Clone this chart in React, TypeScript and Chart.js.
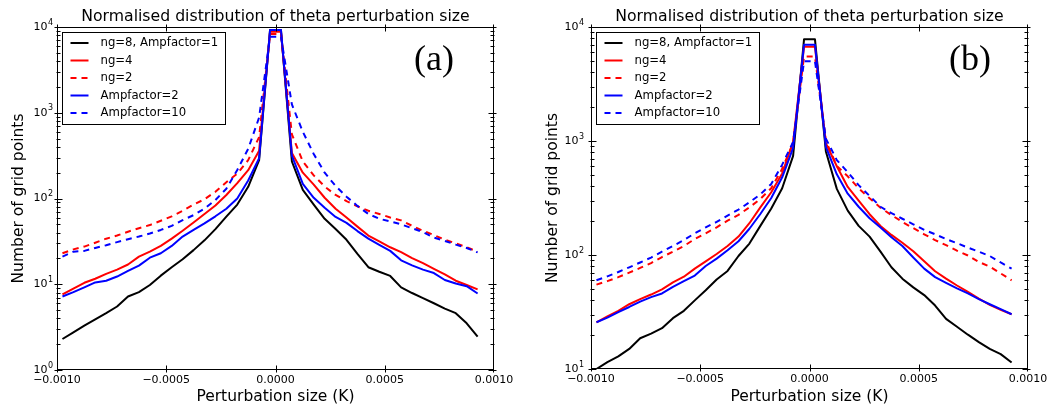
import React, { useEffect, useRef } from "react";
import { Chart, registerables } from "chart.js";

Chart.register(...registerables);

// ---------- data ----------
const X_VALUES = [
  -0.000975, -0.000925, -0.000875, -0.000825, -0.000775, -0.000725, -0.000675, -0.000625,
  -0.000575, -0.000525, -0.000475, -0.000425, -0.000375, -0.000325, -0.000275, -0.000225,
  -0.000175, -0.000125, -0.000075, -0.000025, 0.000025, 0.000075, 0.000125, 0.000175,
  0.000225, 0.000275, 0.000325, 0.000375, 0.000425, 0.000475, 0.000525, 0.000575,
  0.000625, 0.000675, 0.000725, 0.000775, 0.000825, 0.000875, 0.000925,
];

// panel (a)
const A_NG8 = [2.3, 2.75, 3.3, 3.9, 4.6, 5.5, 7.2, 8.1, 9.8, 12.6, 15.8, 19.6, 25, 32.5, 44, 61.5, 85, 137, 280, 9200, 9200, 270, 126, 85, 58, 44, 33, 22.6, 15.8, 14, 12.5, 9.2, 7.9, 6.9, 6.0, 5.2, 4.6, 3.5, 2.45];
const A_NG4 = [7.6, 8.9, 10.4, 11.6, 13.2, 14.8, 17, 21, 24, 28, 34, 42, 52.5, 66, 83, 110, 151, 214, 360, 8800, 8800, 340, 200, 145, 102, 76, 60, 47, 37, 31.6, 27, 23.7, 20.2, 17.6, 15.1, 13, 11, 9.8, 8.7];
const A_NG2 = [23, 25.5, 27.5, 30.5, 34, 37, 41, 45, 49, 55, 62, 72, 85, 98, 120, 155, 195, 280, 520, 8300, 8300, 560, 270, 186, 138, 110, 93, 81, 72, 66, 60, 55.6, 48, 42, 37.5, 33, 30, 27, 24];
const A_AMP2 = [7.2, 8.1, 9.2, 10.5, 11, 12.3, 14.3, 16.5, 20.4, 23, 28, 36, 43, 51.3, 62, 76, 100, 162, 295, 9200, 9200, 316, 148, 102, 78, 61, 52, 41.7, 34, 28.8, 24.5, 19, 16.6, 14.8, 13.5, 11.2, 10.2, 9.5, 7.8];
const A_AMP10 = [21, 24, 24.5, 26.5, 28.5, 31, 33.5, 36, 39, 43, 48, 56, 64, 76, 96, 130, 215, 380, 880, 7700, 7700, 1250, 600, 330, 200, 140, 105, 82, 66, 58, 54, 50, 45, 40.5, 35, 32, 29, 26.5, 23.5];

// panel (b)
const B_NG8 = [10, 11.5, 12.9, 15, 18.6, 20.4, 22.8, 27.9, 32.4, 40, 49, 61, 72.5, 98, 126, 180, 256, 385, 740, 7800, 7800, 810, 380, 245, 180, 145, 107, 78, 62, 52, 44.5, 36, 27.5, 23.5, 20, 17.2, 15, 13.5, 11.4];
const B_NG4 = [25.7, 29, 32.4, 37, 41, 45, 50, 57.5, 64.5, 76, 88, 102, 120, 145, 190, 262, 355, 520, 980, 6700, 6700, 955, 600, 395, 300, 228, 180, 150, 128, 108, 88, 72, 62, 54, 47.5, 41.5, 36.5, 33, 30.2];
const B_NG2 = [55, 59, 64, 70, 77, 85, 96, 107, 120, 138, 155, 175, 200, 225, 262, 310, 385, 570, 960, 5500, 5500, 1000, 603, 490, 385, 314, 260, 224, 195, 172, 152, 135, 122, 109, 99, 87, 79, 69, 60];
const B_AMP2 = [25.7, 28.2, 31.6, 35, 39, 42.7, 46, 52.5, 59, 66, 80, 93, 110, 132, 170, 229, 316, 480, 870, 7000, 7000, 890, 510, 345, 265, 210, 174, 143, 120, 95, 76, 64, 57, 51, 46, 41, 37, 33.5, 30.2];
const B_AMP10 = [60, 65, 71, 78, 86, 95, 107, 120, 135, 155, 175, 195, 222, 250, 290, 340, 420, 620, 980, 5000, 5000, 1050, 680, 533, 410, 330, 265, 233, 208, 186, 166, 152, 138, 127, 116, 107, 98, 86, 76];

const SERIES_LABELS = ["ng=8, Ampfactor=1", "ng=4", "ng=2", "Ampfactor=2", "Ampfactor=10"];
const X_TICKS = [-0.001, -0.0005, 0, 0.0005, 0.001];
const X_TICK_LABELS = ["\u22120.0010", "\u22120.0005", "0.0000", "0.0005", "0.0010"];
const Y_TICKS_A = [1, 10, 100, 1000, 10000];
const Y_TICK_EXP_A = ["0", "1", "2", "3", "4"];
const Y_TICKS_B = [10, 100, 1000, 10000];
const Y_TICK_EXP_B = ["1", "2", "3", "4"];
const TITLE = "Normalised distribution of theta perturbation size";
const X_TITLE = "Perturbation size (K)";
const Y_TITLE = "Number of grid points";

// ---------- styles ----------
const SERIES_COLORS = ["#000000", "#ff0000", "#ff0000", "#0000ff", "#0000ff"];
const SERIES_DASHED = [false, false, true, false, true];
const FONT = "'DejaVu Sans', 'Noto Sans', sans-serif";

type Panel = {
  series: number[][];
  yMin: number;
  yMax: number;
  yTicks: number[];
  yExp: string[];
  tag: string;
  tagX: number;
  width: number;
  padding: { left: number; right: number; top: number; bottom: number };
  yLabelGap: number;
  yTitleX: number;
};

const PANEL_A: Panel = {
  series: [A_NG8, A_NG4, A_NG2, A_AMP2, A_AMP10],
  yMin: 1,
  yMax: 10000,
  yTicks: Y_TICKS_A,
  yExp: Y_TICK_EXP_A,
  tag: "(a)",
  tagX: 434,
  width: 529,
  padding: { left: 57, right: 35, top: 27, bottom: 38 },
  yLabelGap: 4,
  yTitleX: 23,
};

const PANEL_B: Panel = {
  series: [B_NG8, B_NG4, B_NG2, B_AMP2, B_AMP10],
  yMin: 10,
  yMax: 10000,
  yTicks: Y_TICKS_B,
  yExp: Y_TICK_EXP_B,
  tag: "(b)",
  tagX: 441,
  width: 530,
  padding: { left: 62, right: 31, top: 27, bottom: 39 },
  yLabelGap: 7,
  yTitleX: 28,
};

function decorPlugin(p: Panel) {
  return {
    id: "decor",
    afterDraw(chart: any) {
      const ctx: CanvasRenderingContext2D = chart.ctx;
      const { left, right, top, bottom } = chart.chartArea;
      const xs = chart.scales.x;
      const ys = chart.scales.y;
      const L = Math.round(left) + 0.5;
      const R = Math.round(right) - 0.5;
      const T = Math.round(top) + 0.5;
      const B = Math.round(bottom) - 0.5;
      ctx.save();
      ctx.strokeStyle = "#000";
      ctx.fillStyle = "#000";
      ctx.lineWidth = 1;
      ctx.setLineDash([]);

      // frame
      ctx.strokeRect(L, T, R - L, B - T);

      // x ticks
      ctx.beginPath();
      X_TICKS.forEach((v) => {
        let px = Math.round(xs.getPixelForValue(v)) + 0.5;
        if (px < L) px = L;
        if (px > R) px = R;
        ctx.moveTo(px, B + 3);
        ctx.lineTo(px, B - 4);
        ctx.moveTo(px, T - 3);
        ctx.lineTo(px, T + 4);
      });
      // y major ticks
      p.yTicks.forEach((v) => {
        const py = Math.round(ys.getPixelForValue(v)) + 0.5;
        ctx.moveTo(L - 3, py);
        ctx.lineTo(L + 5, py);
        ctx.moveTo(R + 3, py);
        ctx.lineTo(R - 5, py);
      });
      // y minor ticks
      for (let i = 0; i < p.yTicks.length - 1; i++) {
        for (let m = 2; m <= 9; m++) {
          const v = p.yTicks[i] * m;
          const py = Math.round(ys.getPixelForValue(v)) + 0.5;
          ctx.moveTo(L - 1, py);
          ctx.lineTo(L + 3, py);
          ctx.moveTo(R + 1, py);
          ctx.lineTo(R - 3, py);
        }
      }
      ctx.stroke();

      // x tick labels
      ctx.font = `11px ${FONT}`;
      ctx.textAlign = "center";
      ctx.textBaseline = "top";
      X_TICKS.forEach((v, i) => {
        ctx.fillText(X_TICK_LABELS[i], xs.getPixelForValue(v), bottom + 5);
      });

      // y tick labels (10^n)
      p.yTicks.forEach((v, i) => {
        const py = ys.getPixelForValue(v);
        const rx = left - p.yLabelGap;
        ctx.textAlign = "right";
        ctx.textBaseline = "middle";
        ctx.font = `8px ${FONT}`;
        const sw = ctx.measureText(p.yExp[i]).width;
        ctx.fillText(p.yExp[i], rx, py - 4.5);
        ctx.font = `11px ${FONT}`;
        ctx.fillText("10", rx - sw - 0.5, py);
      });

      // title
      const cx = (left + right) / 2;
      ctx.font = `15.7px ${FONT}`;
      ctx.textAlign = "center";
      ctx.textBaseline = "alphabetic";
      ctx.fillText(TITLE, cx, 21);

      // x title
      ctx.font = `15.5px ${FONT}`;
      ctx.fillText(X_TITLE, cx, 401);

      // y title
      ctx.save();
      ctx.translate(p.yTitleX, (top + bottom) / 2);
      ctx.rotate(-Math.PI / 2);
      ctx.textAlign = "center";
      ctx.textBaseline = "alphabetic";
      ctx.fillText(Y_TITLE, 0, 0);
      ctx.restore();

      // panel tag
      ctx.font = `36px 'Liberation Serif', 'DejaVu Serif', serif`;
      ctx.textAlign = "center";
      ctx.textBaseline = "alphabetic";
      ctx.fillText(p.tag, p.tagX, 70);

      // legend
      const bx = Math.round(left + 5) + 0.5;
      const by = 32.5;
      const bw = 163;
      const bh = 92;
      ctx.fillStyle = "#fff";
      ctx.fillRect(bx, by, bw, bh);
      ctx.strokeStyle = "#000";
      ctx.lineWidth = 1;
      ctx.strokeRect(bx, by, bw, bh);
      ctx.font = `11.7px ${FONT}`;
      ctx.textAlign = "left";
      ctx.textBaseline = "middle";
      chart.data.datasets.forEach((ds: any, i: number) => {
        const ry = by + 10.5 + 17.5 * i;
        ctx.strokeStyle = ds.borderColor;
        ctx.lineWidth = ds.borderWidth;
        ctx.setLineDash(ds.borderDash || []);
        ctx.beginPath();
        ctx.moveTo(bx + 8, ry);
        ctx.lineTo(bx + 26, ry);
        ctx.stroke();
        ctx.setLineDash([]);
        ctx.fillStyle = "#000";
        ctx.fillText(ds.label, bx + 38, ry);
      });

      ctx.restore();
    },
  };
}

function makeConfig(p: Panel): any {
  return {
    type: "line",
    data: {
      datasets: p.series.map((vals, i) => ({
        label: SERIES_LABELS[i],
        data: X_VALUES.map((x, j) => ({ x, y: vals[j] })),
        borderColor: SERIES_COLORS[i],
        backgroundColor: SERIES_COLORS[i],
        borderWidth: 2,
        borderDash: SERIES_DASHED[i] ? [6, 5] : [],
        borderJoinStyle: "round",
        pointRadius: 0,
        pointHoverRadius: 0,
        fill: false,
        tension: 0,
        order: 5 - i,
      })),
    },
    options: {
      animation: false,
      responsive: false,
      devicePixelRatio: 1,
      events: [],
      layout: { padding: p.padding },
      scales: {
        x: { type: "linear", min: -0.001, max: 0.001, display: false },
        y: { type: "logarithmic", min: p.yMin, max: p.yMax, display: false },
      },
      plugins: {
        legend: { display: false },
        tooltip: { enabled: false },
        title: { display: false },
      },
    },
    plugins: [decorPlugin(p)],
  };
}

export default function App() {
  const refA = useRef<HTMLCanvasElement>(null);
  const refB = useRef<HTMLCanvasElement>(null);
  useEffect(() => {
    const a = new Chart(refA.current as HTMLCanvasElement, makeConfig(PANEL_A));
    const b = new Chart(refB.current as HTMLCanvasElement, makeConfig(PANEL_B));
    return () => {
      a.destroy();
      b.destroy();
    };
  }, []);
  return (
    <div style={{ position: "fixed", left: 0, top: 0, width: 1059, height: 408, background: "#fff" }}>
      <canvas
        ref={refA}
        width={PANEL_A.width}
        height={408}
        style={{ position: "absolute", left: 0, top: 0, width: PANEL_A.width, height: 408 }}
      />
      <canvas
        ref={refB}
        width={PANEL_B.width}
        height={408}
        style={{ position: "absolute", left: 529, top: 0, width: PANEL_B.width, height: 408 }}
      />
    </div>
  );
}
